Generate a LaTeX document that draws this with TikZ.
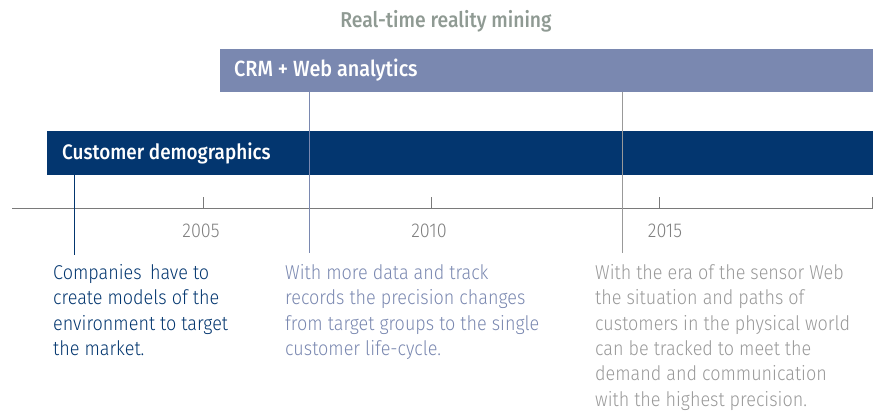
\documentclass[tikz,border=0pt]{standalone}
\usepackage{fontspec}
\setmainfont[FakeStretch=0.9]{Fira Sans Light}
\newfontfamily\boldcond[FakeStretch=0.9]{Fira Sans Medium}
\definecolor{darkbar}{HTML}{03366F}
\definecolor{lightbar}{HTML}{7A88B0}
\definecolor{titlegray}{HTML}{8F9A93}
\definecolor{axisgray}{HTML}{7A7A7A}
\definecolor{yeargray}{HTML}{808080}
\definecolor{txtgray}{HTML}{999999}
\begin{document}
\begin{tikzpicture}[x=1pt,y=-1pt,
  bartxt/.style={anchor=west,inner sep=0pt,text=white,font=\boldcond\fontsize{21}{24}\selectfont},
  yearlbl/.style={text=yeargray,font=\fontsize{20}{24}\selectfont},
  desc/.style={anchor=north west,align=left,inner sep=0pt,font=\fontsize{20}{25.4}\selectfont},
  tick/.style={draw=axisgray,line width=1pt}]
\useasboundingbox (0,0) rectangle (873,412);
\node[text=titlegray,font=\boldcond\fontsize{21.5}{24}\selectfont] (title) at (446,21) {Real-time reality mining};
\fill[lightbar] (220,49) rectangle (873,92);
\fill[darkbar] (47,131) rectangle (873,175);
\node[bartxt,font=\boldcond\fontsize{22}{24}\selectfont] (crm) at (234,70.5) {CRM + Web analytics};
\node[bartxt] (cd) at (62,153) {Customer demographics};
\coordinate (axL) at (12,208);
\coordinate (axR) at (873,208);
\draw[axisgray,line width=1pt] (axL) -- (axR);
\foreach \x in {203,431,659,872}{\draw[tick] (\x,197) -- (\x,208);}
\node[yearlbl] (y2005) at (201,231) {2005};
\node[yearlbl] (y2010) at (429,231) {2010};
\node[yearlbl] (y2015) at (665,231) {2015};
\draw[darkbar,line width=1pt] (74,175) -- (74,255);
\draw[lightbar,line width=1pt] (309,92) -- (309,253);
\draw[txtgray,line width=1pt] (622,92) -- (622,253);
\node[desc,text=darkbar] (t1) at (53,264) {Companies \,have to\\create models of the\\environment to target\\the market.};
\node[desc,text=lightbar] (t2) at (285,264) {With more data and track\\records the precision changes\\from target groups to the single\\customer life-cycle.};
\node[desc,text=txtgray] (t3) at (595,264) {With the era of the sensor Web\\the situation and paths of\\customers in the physical world\\can be tracked to meet the\\demand and communication\\with the highest precision.};
\end{tikzpicture}
\end{document}
